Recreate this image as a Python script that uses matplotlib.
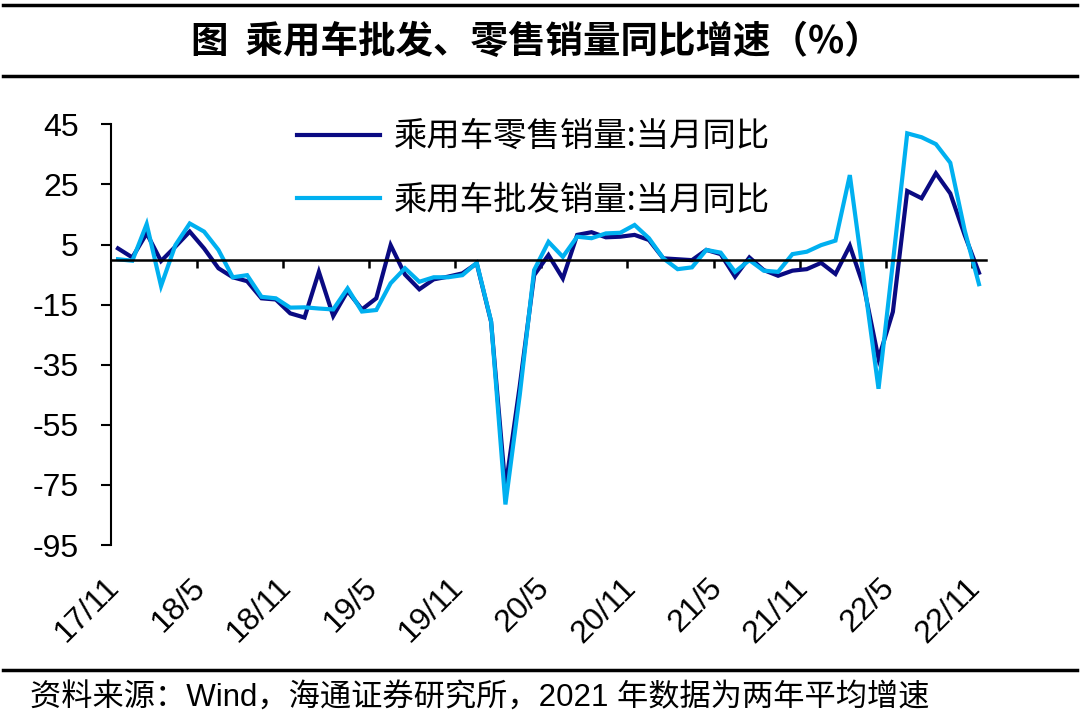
import numpy as np
import matplotlib
matplotlib.use("Agg")
import matplotlib.pyplot as plt
from matplotlib.lines import Line2D
from matplotlib.transforms import blended_transform_factory

plt.rcParams['font.family'] = ['Liberation Sans', 'Noto Sans CJK SC', 'DejaVu Sans']

# monthly data, 2017/11 .. 2022/11 (61 months), yoy %
retail = [3.7, 0.7, 8.7, -0.5, 4.3, 9.3, 3.7, -2.9, -5.9, -7.2,
          -12.9, -13.3, -17.9, -19.3, -4.1, -18.8, -10.5, -16.6, -12.9, 4.8,
          -5.0, -9.9, -6.6, -5.7, -4.6, -1.3, -20.7, -76.0, -42.0, -5.2,
          1.5, -6.3, 8.2, 9.1, 7.4, 7.6, 8.2, 6.5, 0.4, 0.1,
          -0.2, 3.2, 1.8, -5.7, 0.7, -3.5, -5.4, -3.7, -3.2, -1.1,
          -4.8, 4.6, -9.5, -33.0, -17.4, 22.8, 20.4, 28.7, 22.0, 8.2,
          -4.4]
wholesale = [0.1, -0.4, 11.8, -8.8, 4.8, 12.0, 9.3, 3.2, -5.9, -5.2,
             -12.4, -12.9, -16.0, -15.9, -16.3, -16.6, -9.6, -17.3, -16.8, -7.9,
             -2.9, -7.4, -5.9, -5.9, -5.2, -1.1, -20.5, -81.5, -45.0, -3.5,
             5.9, 0.9, 7.6, 7.1, 8.7, 8.9, 11.5, 7.1, 0.4, -3.2,
             -2.6, 3.2, 2.3, -4.1, -0.2, -3.7, -4.1, 1.8, 2.6, 4.8,
             6.3, 28.1, -7.4, -43.0, -1.0, 42.0, 40.7, 38.4, 32.2, 9.8,
             -8.2]
months = []
y, m = 2017, 11
for k in range(61):
    months.append('%d/%d' % (y % 100, m))
    m += 1
    if m > 12:
        m = 1
        y += 1

names = ['乘用车零售销量:当月同比', '乘用车批发销量:当月同比']
colors = ['#0A0A82', '#00B0F0']
yticks = list(range(-95, 46, 20))

fig = plt.figure(figsize=(10.8, 7.24), dpi=100)
ax = fig.add_axes([0.1026, 0.2472, 0.8105, 0.5811])

x = np.arange(len(months))
ax.plot(x, retail, color=colors[0], lw=3, label=names[0], solid_joinstyle='miter')
ax.plot(x, wholesale, color=colors[1], lw=3, label=names[1], solid_joinstyle='miter')

ax.set_xlim(-0.5, len(months) - 0.5)
ax.set_ylim(-95, 45)
ax.set_yticks(yticks)
ax.set_yticklabels([str(v) for v in yticks], fontsize=23)
ax.tick_params(axis='y', direction='out', length=7, width=1.5, pad=16)

# category axis crosses at zero, ticks between categories
ax.spines['bottom'].set_position(('data', 0))
ax.spines['bottom'].set_linewidth(1.8)
ax.spines['left'].set_linewidth(1.5)
ax.spines['top'].set_visible(False)
ax.spines['right'].set_visible(False)
ax.set_xticks(np.arange(5.5, len(months), 6))
ax.tick_params(axis='x', direction='out', length=6, width=1.8, labelbottom=False)

trans = blended_transform_factory(ax.transData, ax.transAxes)
for i in range(0, len(months), 6):
    ax.text(i + 0.5, -0.065, months[i], transform=trans, rotation=45,
            ha='right', va='top', fontsize=23)

leg = ax.legend(loc='upper left', bbox_to_anchor=(0.2127, 1.012), frameon=False,
                handlelength=2.5, handletextpad=0.4,
                labelspacing=0.85, borderpad=0, borderaxespad=0,
                prop={'family': ['Noto Sans CJK SC'], 'size': 24})
for h in leg.get_lines():
    h.set_linewidth(3)

# header / footer rules and texts
for yy in [0.993, 0.895, 0.075]:
    fig.add_artist(Line2D([0.003, 0.997], [yy, yy], color='black', lw=2.5))
fig.text(0.497, 0.942, '图  乘用车批发、零售销量同比增速（%）', ha='center', va='center',
         fontsize=27, fontweight='bold', family=['Noto Sans CJK SC'])
fig.text(0.028, 0.035, '资料来源：Wind，海通证券研究所，2021 年数据为两年平均增速',
         ha='left', va='center', fontsize=22.5,
         family=['Liberation Sans', 'Noto Sans CJK SC'])

fig.savefig('out.png', dpi=100)
